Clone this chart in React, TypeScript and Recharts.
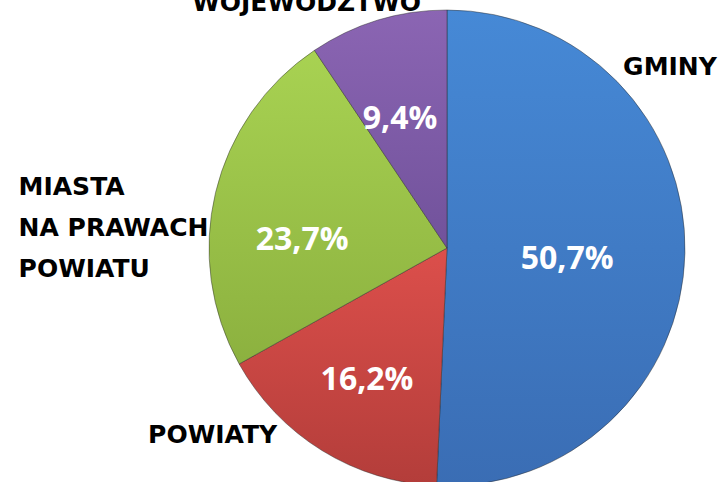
import { Cell, Pie, PieChart } from "recharts";

const categories = ["GMINY", "POWIATY", "MIASTA NA PRAWACH POWIATU", "WOJEWÓDZTWO"];
const shares = [50.7, 16.2, 23.7, 9.4];
const shareLabels = ["50,7%", "16,2%", "23,7%", "9,4%"];
const nameLines = [["GMINY"], ["POWIATY"], ["MIASTA", "NA PRAWACH", "POWIATU"], ["WOJEWÓDZTWO"]];

// top/bottom gradient stops for each slice
const FILLS = [
  ["#4689d6", "#3a6db4"],
  ["#dc4f4b", "#b33d3a"],
  ["#a8d252", "#8cb13f"],
  ["#8b65b3", "#71529b"],
];

// inner label: angle offset from slice middle (deg) and radius as share of outer radius
const INNER = [
  { da: -3, r: 0.506 },
  { da: 0, r: 0.64 },
  { da: 9.5, r: 0.61 },
  { da: 2.8, r: 0.585 },
];
// outer label: offset from pie centre in outer radii
const OUTER: { dx: number; dy: number; anchor: "start" | "middle" | "end" }[] = [
  { dx: 0.74, dy: -0.765, anchor: "start" },
  { dx: -1.256, dy: 0.78, anchor: "start" },
  { dx: -1.8, dy: -0.26, anchor: "start" },
  { dx: -0.59, dy: -1.035, anchor: "middle" },
];

const data = categories.map((name, i) => ({ name, value: shares[i] }));

const RAD = Math.PI / 180;

function SliceLabel(props: any) {
  const { cx, cy, midAngle, outerRadius, index } = props;
  const inner = INNER[index];
  const a = (midAngle + inner.da) * RAD;
  const ix = cx + outerRadius * inner.r * Math.cos(a);
  const iy = cy - outerRadius * inner.r * Math.sin(a);
  const o = OUTER[index];
  const ox = cx + outerRadius * o.dx;
  const oy = cy + outerRadius * o.dy;
  return (
    <g>
      <text
        x={ix}
        y={iy}
        textAnchor="middle"
        dominantBaseline="central"
        fill="#ffffff"
        style={{ fontFamily: "'Open Sans', sans-serif", fontWeight: 700, fontSize: 32 }}
      >
        {shareLabels[index]}
      </text>
      <text
        x={ox}
        y={oy}
        textAnchor={o.anchor}
        dominantBaseline="central"
        fill="#000000"
        style={{ fontFamily: "'DejaVu Sans', sans-serif", fontWeight: 700, fontSize: 25 }}
      >
        {nameLines[index].map((line, k) => (
          <tspan key={line} x={ox} dy={k === 0 ? 0 : 41}>
            {line}
          </tspan>
        ))}
      </text>
    </g>
  );
}

export default function App() {
  return (
    <div style={{ position: "fixed", left: 0, top: 0, width: 719, height: 482, background: "#fff" }}>
      <PieChart width={719} height={482} margin={{ top: 0, right: 0, bottom: 0, left: 0 }}>
        <defs>
          {FILLS.map(([top, bottom], i) => (
            <linearGradient key={i} id={`slice${i}`} x1="0" y1="0" x2="0" y2="1">
              <stop offset="0%" stopColor={top} />
              <stop offset="100%" stopColor={bottom} />
            </linearGradient>
          ))}
        </defs>
        <Pie
          data={data}
          dataKey="value"
          nameKey="name"
          cx={447}
          cy={248}
          outerRadius={238}
          startAngle={90}
          endAngle={-270}
          stroke="rgba(40,40,40,0.45)"
          strokeWidth={1}
          label={SliceLabel}
          labelLine={false}
          isAnimationActive={false}
        >
          {data.map((d, i) => (
            <Cell key={d.name} fill={`url(#slice${i})`} />
          ))}
        </Pie>
      </PieChart>
    </div>
  );
}
